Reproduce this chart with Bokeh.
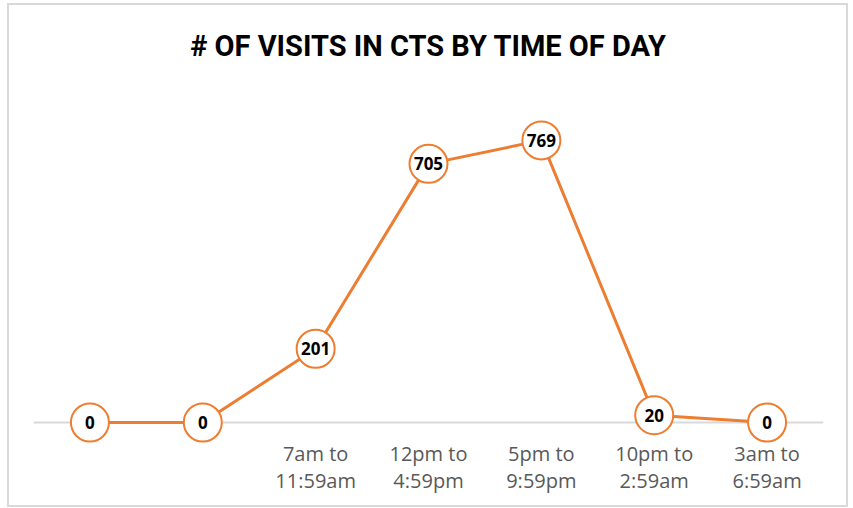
from bokeh.plotting import figure
from bokeh.models import ColumnDataSource, Range1d, FixedTicker, Span, Title
from bokeh.core.properties import value
from bokeh.embed import file_html
from bokeh.resources import INLINE

# Data
title_text = "# OF VISITS IN CTS BY TIME OF DAY"
positions = [0, 1, 2, 3, 4, 5, 6]
tick_labels = ["", "", "7am to\n11:59am", "12pm to\n4:59pm", "5pm to\n9:59pm",
               "10pm to\n2:59am", "3am to\n6:59am"]
visits = [0, 0, 201, 705, 769, 20, 0]
value_labels = [str(v) for v in visits]

ORANGE = "#ED7D31"

src = ColumnDataSource(dict(x=positions, y=visits, lbl=value_labels))

p = figure(width=841, height=504, output_backend="svg", toolbar_location=None,
           x_range=Range1d(-0.5, 6.5), y_range=Range1d(-60, 905),
           min_border_left=24, min_border_right=27, min_border_top=85,
           min_border_bottom=65)
p.title = None
p.styles = {"border": "2px solid #d9d9d9", "margin-left": "7px", "margin-top": "3px"}

# spacer panel between title and plot frame (closest to the frame)
p.add_layout(Title(text=" ", text_font_size="23px", standoff=0, text_color="white"), "above")
p.add_layout(Title(text=title_text, align="center", text_font="Roboto",
                   text_font_style="bold", text_font_size="29px", text_color="#000000",
                   standoff=0), "above")

p.outline_line_color = None
p.xgrid.visible = False
p.ygrid.visible = False
p.yaxis.visible = False

p.xaxis.ticker = FixedTicker(ticks=positions)
p.xaxis.major_label_overrides = {pos: lab for pos, lab in zip(positions, tick_labels)}
p.xaxis.axis_line_color = None
p.xaxis.major_tick_line_color = None
p.xaxis.minor_tick_line_color = None
p.xaxis.major_tick_in = 0
p.xaxis.major_tick_out = 0
p.xaxis.major_label_text_font = "Open Sans"
p.xaxis.major_label_text_font_size = "20px"
p.xaxis.major_label_text_color = "#595959"
p.xaxis.major_label_text_line_height = 1.03
p.xaxis.major_label_standoff = -5

p.add_layout(Span(location=0, dimension="width", line_color="#d9d9d9", line_width=2,
                  level="underlay"))

p.line("x", "y", source=src, line_color=ORANGE, line_width=3)
p.scatter("x", "y", source=src, size=38, fill_color="white", line_color=ORANGE, line_width=2)
p.text("x", "y", text="lbl", source=src, text_align="center", text_baseline="middle",
       text_font=value("Open Sans"), text_font_style="bold", text_font_size="17px",
       text_color="#000000")

open("out.html", "w").write(file_html(p, INLINE))
